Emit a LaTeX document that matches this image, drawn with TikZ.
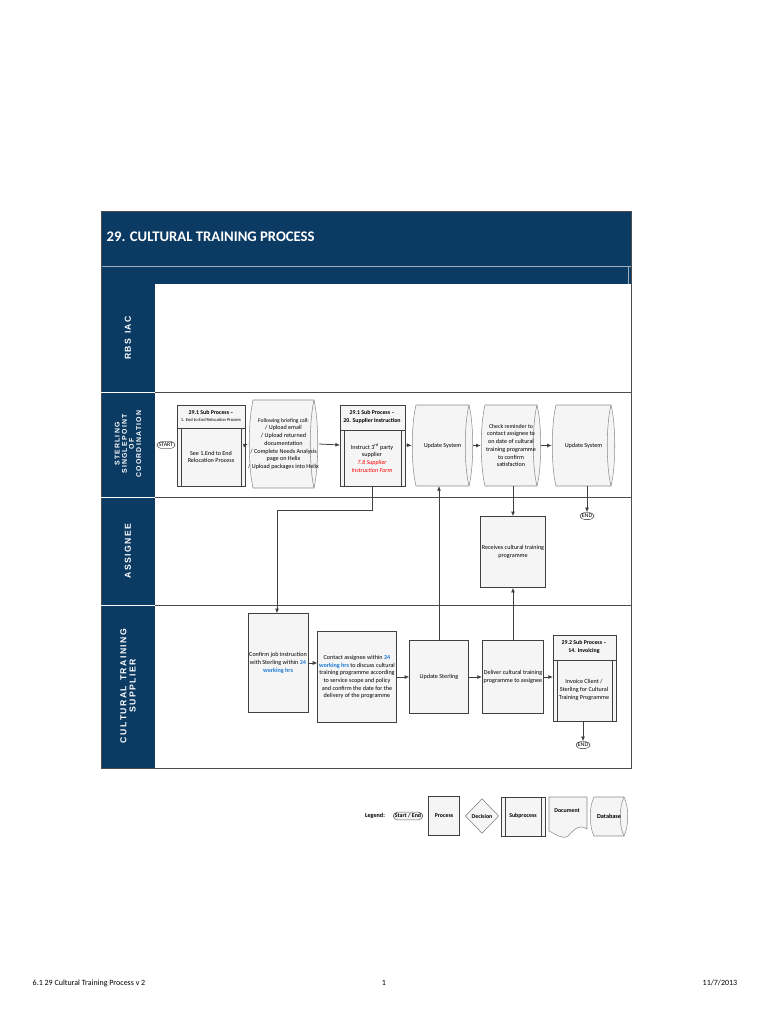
\documentclass[tikz,border=0pt]{standalone}
\usepackage{fontspec}
\setmainfont{Carlito}
\newfontfamily\lanefont{Liberation Sans}
\usetikzlibrary{shapes.geometric,arrows.meta,positioning}
\definecolor{hdrblue}{HTML}{0B3A63}
\definecolor{linkblue}{HTML}{1F7BD8}
\tikzset{
  box/.style={draw=black!75, fill=gray!8, line width=0.6pt, align=center, font=\fontsize{4.6}{5.8}\selectfont, inner sep=1pt},
  term/.style={draw=black!60, fill=white, rounded corners=3pt, font=\fontsize{4.4}{5}\selectfont, inner sep=1.2pt},
  lane/.style={text=white, font=\lanefont\bfseries\fontsize{6.5}{7}\selectfont, rotate=90, align=center},
  flow/.style={-{Latex[length=3.5pt,width=3pt]}, draw=black!75, line width=0.6pt}
}
\newcommand{\subbox}[6]{% name, x1, y1, x2, y2, head y
  \draw[line width=0.6pt, draw=black!75, fill=gray!8] (#2,#3) rectangle (#4,#5);
  \draw[line width=0.6pt, draw=black!75] (#2,#6) -- (#4,#6);
  \draw[line width=0.5pt, draw=black!75] (#2+4,#6) -- (#2+4,#5) (#4-4,#6) -- (#4-4,#5);
  \coordinate (#1) at ({(#2+#4)/2},{(#3+#5)/2});
}
\newcommand{\dbbox}[6]{% name, x1, y1, x2, y2, text
  \draw[draw=black!45, fill=gray!8, line width=0.4pt] (#2+4,#3) -- (#4-4,#3)
    .. controls (#4+1,{#3+(#5-#3)/4}) and (#4+1,{#5-(#5-#3)/4}) .. (#4-4,#5) -- (#2+4,#5)
    .. controls (#2-1,{#5-(#5-#3)/4}) and (#2-1,{#3+(#5-#3)/4}) .. cycle;
  \draw[draw=black!45, line width=0.4pt] (#4-4,#3) .. controls (#4-9,{#3+(#5-#3)/4}) and (#4-9,{#5-(#5-#3)/4}) .. (#4-4,#5);
  \node[align=center, font=\fontsize{4.6}{5.8}\selectfont, inner sep=0pt, minimum width={(#4-#2)*0.75pt}, minimum height={(#5-#3)*0.75pt}] (#1) at ({(#2+#4)/2},{(#3+#5)/2}) {#6};
}
\begin{document}
\begin{tikzpicture}[x=0.75pt,y=-0.75pt]
\useasboundingbox (0,0) rectangle (768,1024);
% frame and header
\fill[hdrblue] (101,211) rectangle (631,284);
\draw[white!60!hdrblue, line width=0.4pt] (101,266) -- (631,266) (628,266) -- (628,284);
\node[anchor=west, text=white, font=\bfseries\fontsize{11}{12}\selectfont] (title) at (102,237) {29. CULTURAL TRAINING PROCESS};
\fill[hdrblue] (101,284) rectangle (155,768);
\draw[black!70, line width=0.7pt] (101,211) rectangle (631,768);
\foreach \y in {392,497,605} \draw[black!70, line width=0.7pt] (101,\y) -- (631,\y);
\draw[white, line width=0.6pt] (101,392) -- (155,392) (101,497) -- (155,497) (101,605) -- (155,605);
% lane labels
\node[lane] (l1) at (128,338) {R\,B\,S\ \ I\,A\,C};
\node[lane, font=\lanefont\bfseries\fontsize{5.2}{5.4}\selectfont] (l2) at (128,444) {S\,T\,E\,R\,L\,I\,N\,G\\S\,I\,N\,G\,L\,E\ P\,O\,I\,N\,T\\O\,F\\C\,O\,O\,R\,D\,I\,N\,A\,T\,I\,O\,N};
\node[lane] (l3) at (128,551) {A\,S\,S\,I\,G\,N\,E\,E};
\node[lane] (l4) at (128,686) {C\,U\,L\,T\,U\,R\,A\,L\ \ T\,R\,A\,I\,N\,I\,N\,G\\S\,U\,P\,P\,L\,I\,E\,R};
% sterling lane
\node[term] (start) at (166,445) {START};
\subbox{sp1}{177}{405}{245}{486}{428}
\node[font=\fontsize{4.4}{5.2}\selectfont, align=center] (sp1h) at (211,416) {\textbf{29.1 Sub Process --}\\{\fontsize{3.4}{4}\selectfont 1. End to End Relocation Process}};
\node[font=\fontsize{4.6}{5.8}\selectfont, align=center] (sp1b) at (211,457) {See 1.End to End\\Relocation Process};
\dbbox{brief}{249}{400}{318}{488}{\fontsize{4.2}{5.8}\selectfont Following briefing call:\\/ Upload email\\/ Upload returned\\documentation\\/ Complete Needs Analysis\\page on Helix\\/ Upload packages into Helix}
\subbox{sp2}{340}{405}{405}{486}{430}
\node[font=\fontsize{4.4}{5.6}\selectfont, align=center] (sp2h) at (372,417) {\textbf{29.1 Sub Process --}\\\textbf{20. Supplier Instruction}};
\node[font=\fontsize{4.6}{5.8}\selectfont, align=center] (sp2b) at (372,458) {Instruct 3\textsuperscript{rd} party\\supplier\\\textcolor{red}{\textit{7.8 Supplier}}\\\textcolor{red}{\textit{Instruction Form}}};
\dbbox{upd1}{412}{405}{473}{486}{Update System}
\dbbox{check}{481}{405}{541}{486}{\fontsize{4.4}{5.8}\selectfont Check reminder to\\contact assignee to\\on date of cultural\\training programme\\to confirm\\satisfaction}
\dbbox{upd2}{552}{405}{615}{486}{Update System}
\node[term] (end1) at (587,516) {END};
% assignee lane
\node[box, minimum width=45pt, minimum height=53pt] (recv) at (513,552) {Receives cultural training\\programme};
% supplier lane
\node[box, minimum width=45pt, minimum height=74pt] (conf) at (278,663) {Confirm job instruction\\with Sterling within \textcolor{linkblue}{\textbf{24}}\\\textcolor{linkblue}{\textbf{working hrs}}};
\node[box, minimum width=52pt, minimum height=68pt] (cont) at (357,677) {Contact assignee within \textcolor{linkblue}{\textbf{24}}\\\textcolor{linkblue}{\textbf{working hrs}} to discuss cultural\\training programme according\\to service scope and policy\\and confirm the date for the\\delivery of the programme};
\node[box, minimum width=44pt, minimum height=55pt] (usterl) at (439,677) {Update Sterling};
\node[box, minimum width=45pt, minimum height=55pt] (deliv) at (513,677) {Deliver cultural training\\programme to assignee};
\subbox{sp3}{553}{635}{616}{721}{660}
\node[font=\fontsize{4.4}{5.6}\selectfont, align=center] (sp3h) at (584,647) {\textbf{29.2 Sub Process --}\\\textbf{14. Invoicing}};
\node[font=\fontsize{4.6}{5.8}\selectfont, align=center] (sp3b) at (584,690) {Invoice Client /\\Sterling for Cultural\\Training Programme};
\node[term] (end2) at (583,745) {END};
% connectors
\draw[flow] (245,445) -- (brief.west);
\draw[flow] (brief.east) -- (340,445);
\draw[flow] (405,445) -- (upd1.west);
\draw[flow] (upd1.east) -- (check.west);
\draw[flow] (check.east) -- (upd2.west);
\draw[flow] (587,486) -- (end1.north);
\draw[flow] (372,486) |- (277,510) -- (conf.north -| 277,0);
\draw[flow] (usterl.north) -- (439,486);
\draw[flow] (check.south -| recv.north) -- (recv.north);
\draw[flow] (deliv.north) -- (recv.south);
\draw[flow] (conf.east) -- (cont.west |- conf.east);
\draw[flow] (cont.east) -- (usterl.west);
\draw[flow] (usterl.east) -- (deliv.west);
\draw[flow] (deliv.east) -- (553,677);
\draw[flow] (583,721) -- (end2.north);
% legend
\node[font=\bfseries\fontsize{4.6}{5}\selectfont] (leg) at (375,816) {Legend:};
\node[term, fill=gray!8, font=\bfseries\fontsize{4.4}{5}\selectfont] (lse) at (408,816) {Start / End};
\node[box, minimum width=23pt, minimum height=29pt, font=\bfseries\fontsize{4.4}{5}\selectfont] (lproc) at (444,816) {Process};
\node[diamond, draw=black!50, fill=gray!8, minimum width=25pt, minimum height=26pt, inner sep=0pt, font=\bfseries\fontsize{4.4}{5}\selectfont] (ldec) at (482,816) {Decision};
\subbox{lsubc}{501}{797}{545}{836}{797}
\node[font=\bfseries\fontsize{4.4}{5}\selectfont] (lsub) at (523,816) {Subprocess};
\draw[draw=black!45, fill=gray!8] (549,797) -- (587,797) -- (587,829) .. controls (578,823) and (572,832) .. (568,836) .. controls (562,840) and (556,834) .. (549,831) -- cycle;
\node[font=\bfseries\fontsize{4.4}{5}\selectfont] (ldoc) at (567,811) {Document};
\dbbox{ldb}{590}{797}{628}{836}{\textbf{Database}}
% footer
\node[anchor=west, font=\fontsize{6}{7}\selectfont] (f1) at (28,983) {6.1 29 Cultural Training Process v 2};
\node[font=\fontsize{6}{7}\selectfont] (f2) at (384,983) {1};
\node[anchor=east, font=\fontsize{6}{7}\selectfont] (f3) at (742,983) {11/7/2013};
\end{tikzpicture}
\end{document}
